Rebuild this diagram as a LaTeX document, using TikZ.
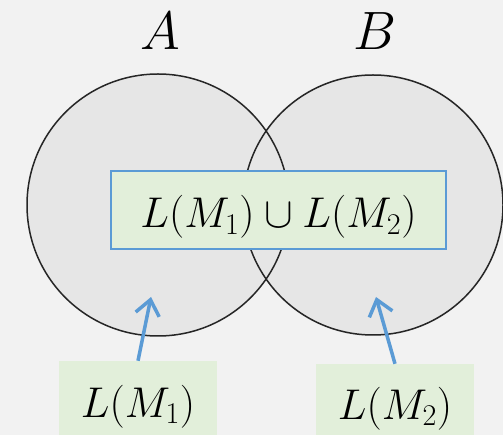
\RequirePackage{fix-cm}
\documentclass[tikz,border=0pt]{standalone}
\usetikzlibrary{arrows.meta}
\definecolor{bggray}{HTML}{F2F2F2}
\definecolor{setgray}{HTML}{E6E6E6}
\definecolor{langgreen}{HTML}{E2EFDA}
\definecolor{ptrblue}{HTML}{5B9BD5}
\begin{document}
\begin{tikzpicture}[x=1pt, y=-1pt,
  setc/.style={circle, fill=setgray, minimum size=262pt, inner sep=0pt},
  setlbl/.style={font=\fontsize{54}{60}\selectfont, anchor=base, inner sep=0pt},
  lang/.style={fill=langgreen, inner sep=0pt, font=\fontsize{43}{48}\selectfont, text height=40pt, text depth=12pt},
  ptr/.style={-{Straight Barb[length=15pt, width=24pt]}, line width=3.5pt, ptrblue}]
  \useasboundingbox (0,0) rectangle (503,435);
  \fill[bggray] (0,0) rectangle (503,435);
  \clip (0,0) rectangle (503,435);
  \node[setc] (setA) at (158,205) {};
  \node[setc] (setB) at (373,205) {};
  \draw[line width=1.5pt, black!85] (setA.center) circle[radius=131] (setB.center) circle[radius=130];
  \node[setlbl] (lblA) at (160,50) {$A$};
  \node[setlbl] (lblB) at (375,50) {$B$};
  \node[lang, draw=ptrblue, line width=1.5pt, minimum width=335pt, minimum height=78pt, text height=44pt, text depth=8pt] (union) at (278.5,210) {$L(M_1)\cup L(M_2)$};
  \node[lang, minimum width=158pt, minimum height=84pt] (lmA) at (138,403) {$L(M_1)$};
  \node[lang, minimum width=158pt, minimum height=82pt] (lmB) at (395,405) {$L(M_2)$};
  \coordinate (tipA) at (151,297);
  \coordinate (tipB) at (376,297);
  \draw[ptr] (lmA.north) -- (tipA);
  \draw[ptr] (lmB.north) -- (tipB);
\end{tikzpicture}
\end{document}
